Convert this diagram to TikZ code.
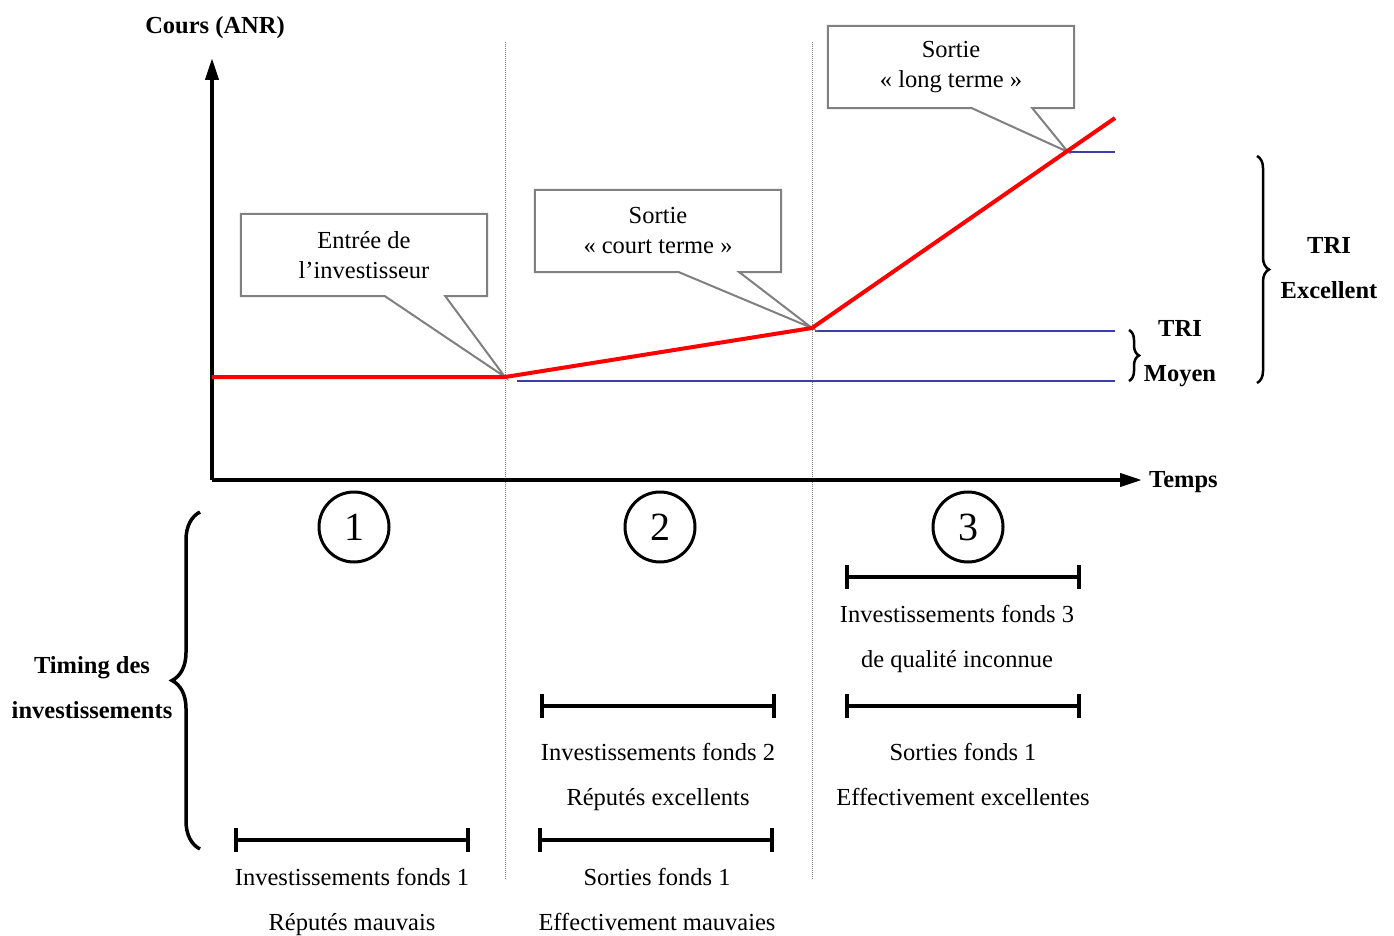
\documentclass[tikz,border=0pt]{standalone}
\usepackage{fontspec}
\setmainfont{Liberation Serif}
\usetikzlibrary{positioning,arrows.meta,calc,decorations.pathreplacing}
\definecolor{levelblue}{RGB}{60,60,175}

\begin{document}
\begin{tikzpicture}[x=1pt,y=-1pt,
  lbl/.style={font=\fontsize{24.5}{45}\selectfont, align=center, inner sep=0pt,
              text depth=6pt},
  boldlbl/.style={lbl, font=\fontsize{24.5}{45}\selectfont\bfseries},
  calltext/.style={font=\fontsize{24.5}{30}\selectfont, align=center,
                   minimum width=246pt, minimum height=82pt, inner sep=0pt},
  callout/.style={draw=gray, line width=2pt, fill=white},
  axis/.style={line width=4pt, -{Triangle[length=22pt,width=13pt]}},
  sep/.style={gray, densely dotted, line width=1pt},
  span/.style={line width=4pt, {Bar[width=24pt,line width=4pt]}-{Bar[width=24pt,line width=4pt]}},
  level/.style={levelblue, line width=1.2pt},
  stage/.style={circle, draw, line width=3pt, minimum size=70pt, inner sep=0pt,
                font=\fontsize{40}{40}\selectfont},
  curly/.style={line width=3.5pt, decorate, decoration={brace, amplitude=28pt}},
  ]
  \useasboundingbox (0,0) rectangle (1394,936);

  % axes
  \coordinate (o) at (212,480);
  \coordinate (ytop) at (212,58);
  \coordinate (xend) at (1142,480);
  \node[boldlbl] (cours) at (215,28) {Cours (ANR)};
  \node[boldlbl, anchor=west] (temps) at (1149,482) {Temps};

  % phase separators
  \coordinate (s1t) at (505,42);  \coordinate (s1b) at (505,880);
  \coordinate (s2t) at (812,42);  \coordinate (s2b) at (812,880);
  \draw[sep] (s1t) -- (s1b);
  \draw[sep] (s2t) -- (s2b);

  % TRI levels
  \coordinate (p0) at (212,377);
  \coordinate (p1) at (505,377);
  \coordinate (p2) at (812,328);
  \coordinate (p3) at (1068,152);
  \coordinate (p4) at (1115,118);
  \draw[level] (517,381) -- (1115,381);
  \draw[level] (815,331) -- (1115,331);
  \draw[level] (p3) -- (1115,152);

  \draw[axis] (o) -- (ytop);
  \draw[axis] (o) -- (xend);

  % callouts
  \node[calltext] (c1) at (364,255) {};
  \node[calltext] (c2) at (658,231) {};
  \node[calltext] (c3) at (951,67) {};
  \foreach \c/\tip in {c1/p1, c2/p2, c3/p3} {
    \draw[callout] (\c.north west) -- (\c.north east) -- (\c.south east)
      -- ($(\c.south west)!0.83!(\c.south east)$) -- (\tip)
      -- ($(\c.south west)!0.585!(\c.south east)$) -- (\c.south west) -- cycle;
  }
  \node[calltext] at (c1) {Entrée de\\l’investisseur};
  \node[calltext] at (c2) {Sortie\\« court terme »};
  \node[calltext] at (c3) {Sortie\\« long terme »};

  % share price
  \draw[red, line width=4pt, line join=round] (p0) -- (p1) -- (p2) -- (p4);

  % braces
  \draw[curly, line width=2.5pt, decoration={amplitude=10pt}] (1129,330) -- (1129,381);
  \node[boldlbl] (moyen) at (1180,354) {TRI\\Moyen};
  \draw[curly, line width=2.5pt, decoration={amplitude=12pt}] (1257,156) -- (1257,383);
  \node[boldlbl] (excel) at (1329,271) {TRI\\Excellent};
  \draw[curly] (200,849) -- (200,512);
  \node[boldlbl] (timing) at (92,690) {Timing des\\investissements};

  % phases
  \node[stage] (n1) at (354,527) {1};
  \node[stage] (n2) at (660,527) {2};
  \node[stage] (n3) at (968,527) {3};

  % timing bars
  \coordinate (a1) at (845,577);  \coordinate (a2) at (1081,577);
  \coordinate (b1) at (845,706);  \coordinate (b2) at (1081,706);
  \coordinate (c1l) at (540,706); \coordinate (c2r) at (776,706);
  \coordinate (d1) at (538,840);  \coordinate (d2) at (774,840);
  \coordinate (e1) at (234,840);  \coordinate (e2) at (470,840);
  \draw[span] (a1) -- (a2);
  \draw[span] (b1) -- (b2);
  \draw[span] (c1l) -- (c2r);
  \draw[span] (d1) -- (d2);
  \draw[span] (e1) -- (e2);

  \node[lbl] (ta) at (957,639) {Investissements fonds 3\\de qualité inconnue};
  \node[lbl] (tb) at (963,777) {Sorties fonds 1\\Effectivement excellentes};
  \node[lbl] (tc) at (658,777) {Investissements fonds 2\\Réputés excellents};
  \node[lbl] (td) at (657,902) {Sorties fonds 1\\Effectivement mauvaies};
  \node[lbl] (te) at (352,902) {Investissements fonds 1\\Réputés mauvais};
\end{tikzpicture}
\end{document}
